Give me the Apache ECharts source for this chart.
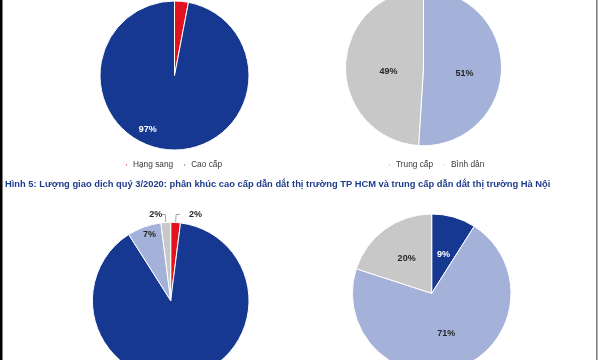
<!DOCTYPE html>
<html><head><meta charset="utf-8">
<script src="https://cdn.jsdelivr.net/npm/echarts@6/dist/echarts.min.js"></script>
<style>html,body{margin:0;padding:0;background:#fff}#c{width:600px;height:360px}</style>
</head><body><div id="c"></div>
<script>
// Data
const hcmPrevNames = ['Hạng sang', 'Cao cấp'];
const hcmPrevValues = [3, 97];
const hnPrevNames = ['Trung cấp', 'Bình dân'];
const hnPrevValues = [51, 49];
const hcmQ3Names = ['Hạng sang', 'Cao cấp', 'Trung cấp', 'Bình dân'];
const hcmQ3Values = [2, 89, 7, 2];
const hnQ3Names = ['Cao cấp', 'Trung cấp', 'Bình dân'];
const hnQ3Values = [9, 71, 20];
const legendTopLeft = ['Hạng sang', 'Cao cấp'];
const legendTopRight = ['Trung cấp', 'Bình dân'];
const titleText = 'Hình 5: Lượng giao dịch quý 3/2020: phân khúc cao cấp dẫn dắt thị trường TP HCM và trung cấp dẫn dắt thị trường Hà Nội';

// Styles
const colorMap = { 'Hạng sang': '#e3121f', 'Cao cấp': '#173891', 'Trung cấp': '#a4b1d9', 'Bình dân': '#c8c8c8' };
const labelColorMap = { 'Hạng sang': '#262626', 'Cao cấp': '#ffffff', 'Trung cấp': '#262626', 'Bình dân': '#262626' };
const FONT = 'Liberation Sans, Arial, sans-serif';

function buildData(names, values, opts) {
  opts = opts || {};
  return names.map((n, i) => {
    const item = {
      name: n, value: values[i],
      itemStyle: { color: colorMap[n] },
      label: { color: labelColorMap[n] }
    };
    if (opts.hide && opts.hide.includes(i)) item.label.show = false;
    if (opts.outside && opts.outside.includes(i)) {
      item.label.position = 'outside';
      item.label.color = '#262626';
      item.labelLine = { show: true, length: 8, length2: 4, lineStyle: { color: '#a6a6a6', width: 1 } };
    }
    return item;
  });
}

function pie(center, radius, data, offsets) {
  return {
    type: 'pie', center: center, radius: radius, startAngle: 90, clockwise: true,
    avoidLabelOverlap: false, silent: true, animation: false,
    itemStyle: { borderColor: '#ffffff', borderWidth: 1 },
    label: {
      show: true, position: 'inside', formatter: '{c}%',
      fontFamily: FONT, fontSize: 9, fontWeight: 'bold'
    },
    labelLine: { show: false },
    labelLayout: function (p) {
      const o = offsets[p.dataIndex] || [0, 0];
      return { dx: o[0], dy: o[1] };
    },
    data: data
  };
}

const legendBase = {
  icon: 'rect', itemWidth: 3, itemHeight: 3, itemGap: 9, padding: 0, top: 161,
  textStyle: { fontFamily: FONT, fontSize: 8.3, color: '#3a3a3a' }, selectedMode: false
};

const chart = echarts.init(document.getElementById('c'), null, { renderer: 'canvas' });
chart.setOption({
  backgroundColor: '#ffffff',
  animation: false,
  title: {
    text: titleText, left: 5, top: 180, padding: 0,
    textStyle: { fontFamily: FONT, fontSize: 9.35, fontWeight: 'bold', color: '#1f3c8c' }
  },
  legend: [
    Object.assign({}, legendBase, { data: legendTopLeft, left: 124 }),
    Object.assign({}, legendBase, { data: legendTopRight, left: 387 })
  ],
  graphic: [
    { type: 'rect', shape: { x: 0, y: 0, width: 2.5, height: 360 }, style: { fill: '#000000' }, silent: true },
    { type: 'rect', shape: { x: 596, y: 0, width: 1.6, height: 360 }, style: { fill: '#808080' }, silent: true }
  ],
  series: [
    pie([174.5, 75.5], 74.5, buildData(hcmPrevNames, hcmPrevValues, { hide: [0] }), [[0, 0], [-23, 14]]),
    pie([423.5, 67.7], 78, buildData(hnPrevNames, hnPrevValues), [[-1, 4], [7, 5]]),
    pie([170.7, 300.6], 78.3, buildData(hcmQ3Names, hcmQ3Values, { outside: [0, 3] }), [[4, 0], [4, 24], [-7, -26], [6, 0]]),
    pie([431.7, 293.3], 79.3, buildData(hnQ3Names, hnQ3Values), [[0, 2], [0, 0], [0, 0]])
  ]
});
</script>
</body></html>
